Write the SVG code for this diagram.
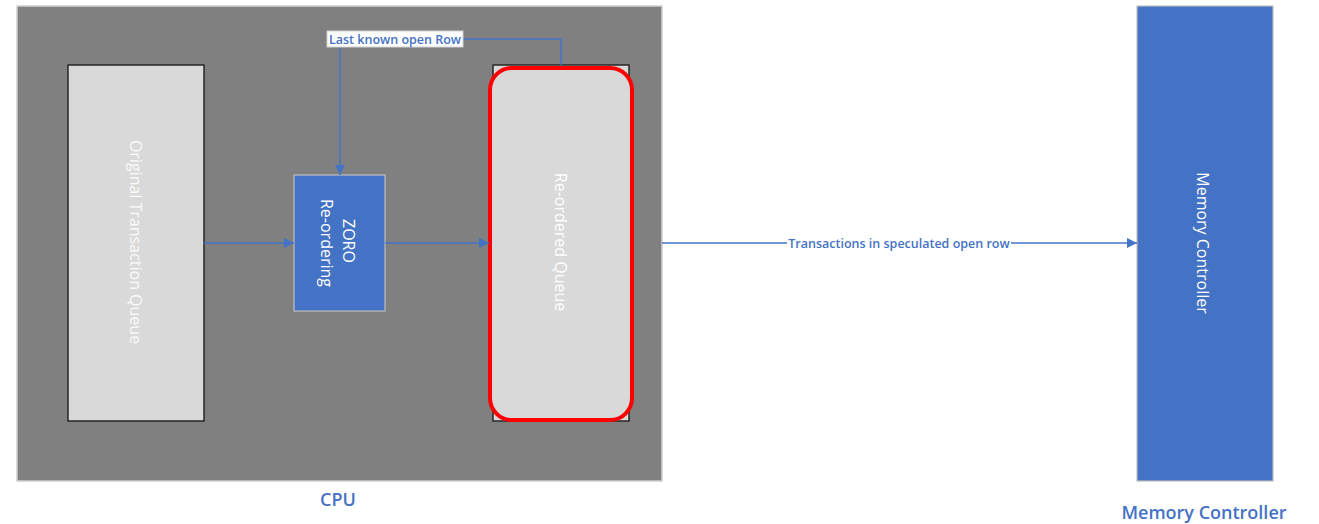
<svg xmlns="http://www.w3.org/2000/svg" width="1319" height="524" viewBox="0 0 1319 524">
  <defs>
    <marker id="arrow" viewBox="0 0 10 10" refX="10" refY="5" markerWidth="10" markerHeight="10" markerUnits="userSpaceOnUse" orient="auto">
      <path d="M0,0 L10,5 L0,10 z" fill="#4472c4"/>
    </marker>
    <style>
      .txt { font-family: "Open Sans", "Noto Sans", "DejaVu Sans", sans-serif; }
      .queue { fill: #d9d9d9; stroke: #262626; stroke-width: 1.5; }
      .blue { fill: #4472c4; stroke: #bfbfbf; stroke-width: 1.2; }
      .conn { fill: none; stroke: #4472c4; stroke-width: 1.5; }
      .vlab { fill: #ffffff; font-size: 16px; text-anchor: middle; dominant-baseline: central; }
      .elab { fill: #4472c4; font-size: 12.5px; font-weight: 600; text-anchor: middle; dominant-baseline: central; }
      .cap { fill: #4472c4; font-size: 18px; font-weight: 600; text-anchor: middle; }
    </style>
  </defs>
  <rect width="1319" height="524" fill="#ffffff"/>

  <!-- CPU container -->
  <g id="cpu">
    <rect x="17" y="6" width="645" height="475" fill="#808080" stroke="#d0d0d0" stroke-width="1.5"/>
    <text class="txt cap" x="338" y="506">CPU</text>
  </g>

  <g id="original-queue">
    <rect class="queue" x="68" y="65" width="136" height="356"/>
    <text class="txt vlab" transform="translate(136,242) rotate(90)" fill-opacity="0.9">Original Transaction Queue</text>
  </g>

  <g id="zoro">
    <rect class="blue" x="294" y="175" width="91" height="136"/>
    <text class="txt vlab" transform="translate(338,243) rotate(90)">
      <tspan x="0" dy="-11">ZORO</tspan>
      <tspan x="0" dy="22">Re-ordering</tspan>
    </text>
  </g>

  <g id="reordered-queue">
    <rect class="queue" x="493" y="65" width="136" height="356"/>
    <rect x="490" y="68" width="142" height="352" rx="22" ry="22" fill="#d9d9d9" stroke="#ff0000" stroke-width="4"/>
    <text class="txt vlab" transform="translate(561,242) rotate(90)">Re-ordered Queue</text>
  </g>

  <g id="memory-controller">
    <rect class="blue" x="1137" y="6" width="136" height="475"/>
    <text class="txt vlab" transform="translate(1203,243) rotate(90)">Memory Controller</text>
    <text class="txt cap" x="1204" y="519">Memory Controller</text>
  </g>

  <g id="connectors">
    <line class="conn" x1="204" y1="243" x2="294" y2="243" marker-end="url(#arrow)"/>
    <line class="conn" x1="385" y1="243" x2="489" y2="243" marker-end="url(#arrow)"/>
    <line class="conn" x1="662" y1="243" x2="1137" y2="243" marker-end="url(#arrow)"/>
    <polyline class="conn" points="561,65 561,39 340,39 340,175" marker-end="url(#arrow)"/>

    <rect x="787" y="236" width="224" height="14" fill="#ffffff"/>
    <text class="txt elab" x="899" y="243">Transactions in speculated open row</text>

    <rect x="327" y="31" width="136" height="16" fill="#ffffff" stroke="#d0d0d0" stroke-width="1"/>
    <text class="txt elab" x="395" y="39">Last known open Row</text>
  </g>
</svg>
